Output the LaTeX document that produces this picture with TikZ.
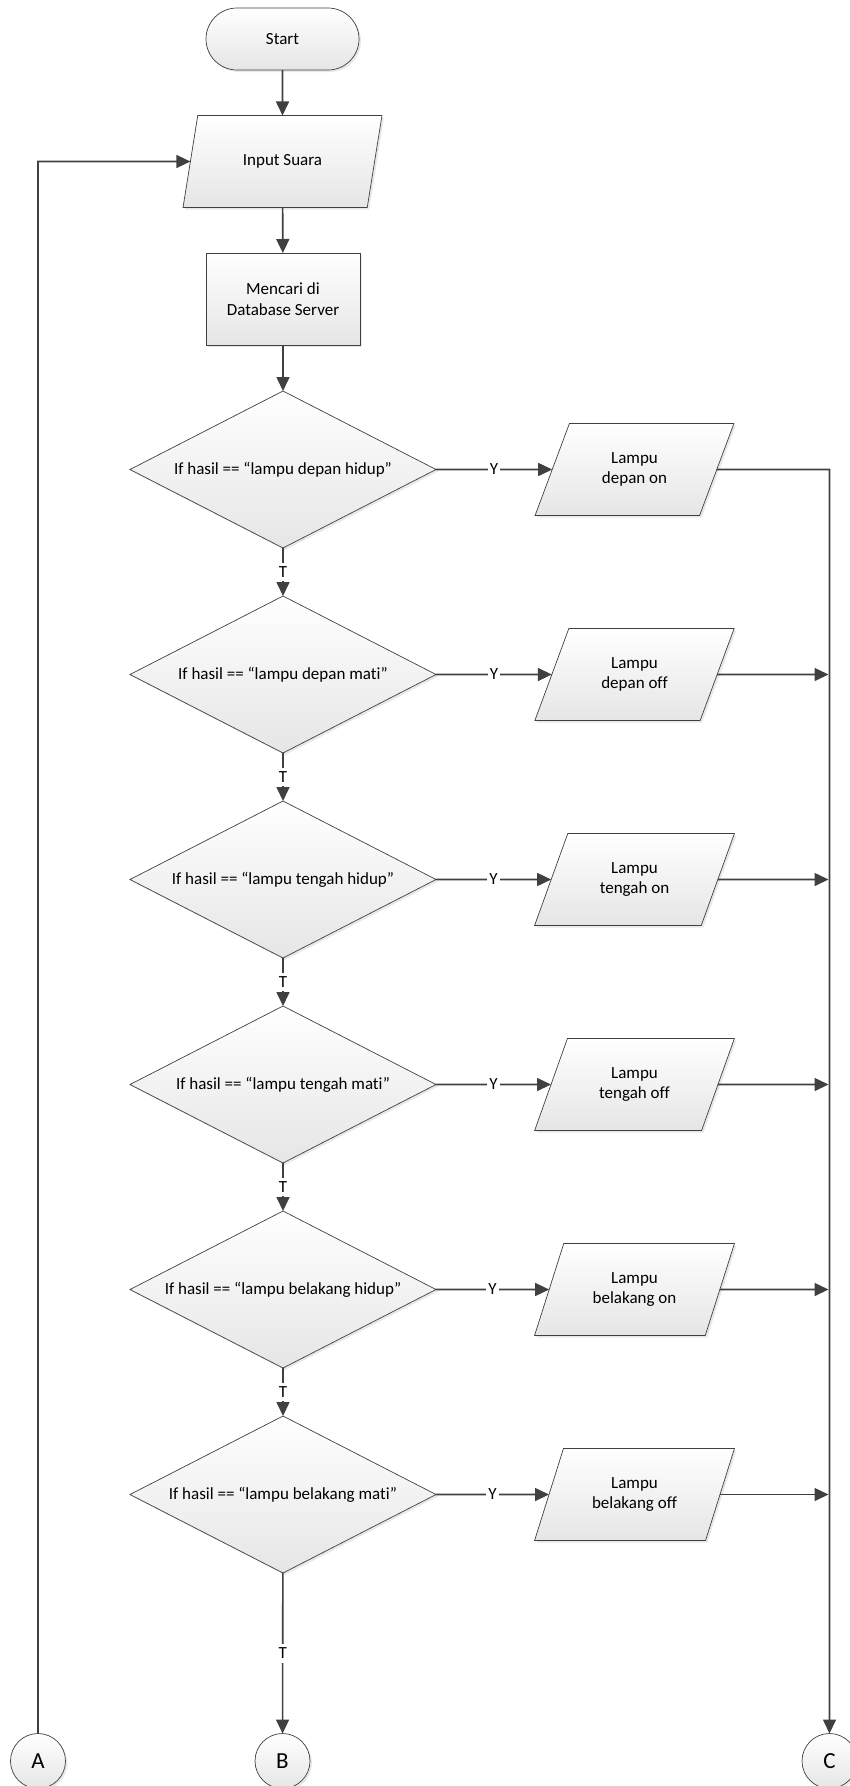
\documentclass[tikz,border=0pt]{standalone}
\usepackage{fontspec}
\setmainfont{Carlito}[Ligatures=NoCommon]
\usetikzlibrary{shapes.geometric,shapes.misc,arrows.meta,shadows,calc}
\definecolor{linecol}{HTML}{404040}
\begin{document}
\begin{tikzpicture}[x=1pt,y=-1pt,
  every node/.style={font=\fontsize{17}{20.7}\selectfont, outer sep=0pt, text=black},
  shp/.style={draw=linecol, line width=0.7pt, top color=white, bottom color=black!10,
    drop shadow={shadow xshift=2pt, shadow yshift=-2pt, opacity=0.18}},
  term/.style={shp, rectangle, rounded corners=31pt, minimum width=153pt, minimum height=62pt, inner sep=0pt},
  io/.style={shp, trapezium, trapezium left angle=63.43, trapezium right angle=116.57,
    trapezium stretches=true, minimum width=200pt, minimum height=92pt, inner sep=0pt, align=center},
  proc/.style={shp, rectangle, minimum width=154pt, minimum height=92pt, inner sep=0pt, align=center},
  dec/.style={shp, diamond, aspect=1.95, minimum width=306pt, minimum height=157pt, inner sep=0pt},
  conn/.style={shp, circle, minimum size=55pt, inner sep=0pt, font=\fontsize{23}{26}\selectfont},
  line/.style={draw=linecol, line width=1.6pt},
  arr/.style={line, -{Triangle[length=14pt,width=13pt]}},
  lbl/.style={midway, fill=white, inner xsep=2pt, inner ysep=4pt}
]
\useasboundingbox (0,0) rectangle (849,1786);

\node[term] (start) at (282.5,39) {Start};
\node[io] (in) at (282.5,161.5) {Input Suara};
\node[proc] (db) at (283,299) {Mencari di\\Database Server};

\node[dec] (d1) at (283,469.5) {If hasil == “lampu depan hidup”};
\node[dec] (d2) at (283,674.5) {If hasil == “lampu depan mati”};
\node[dec] (d3) at (283,879.5) {If hasil == “lampu tengah hidup”};
\node[dec] (d4) at (283,1084.5) {If hasil == “lampu tengah mati”};
\node[dec] (d5) at (283,1289.5) {If hasil == “lampu belakang hidup”};
\node[dec] (d6) at (283,1494.5) {If hasil == “lampu belakang mati”};

\node[io] (p1) at (634.5,469.5) {Lampu\\depan on};
\node[io] (p2) at (634.5,674.5) {Lampu\\depan off};
\node[io] (p3) at (634.5,879.5) {Lampu\\tengah on};
\node[io] (p4) at (634.5,1084.5) {Lampu\\tengah off};
\node[io] (p5) at (634.5,1289.5) {Lampu\\belakang on};
\node[io] (p6) at (634.5,1494.5) {Lampu\\belakang off};

\node[conn] (A) at (38,1761) {A};
\node[conn] (B) at (282.5,1761) {B};
\node[conn] (C) at (829.5,1761) {C};

\draw[arr] (start) -- (in);
\draw[arr] (in) -- (db);
\draw[arr] (db) -- (d1);
\draw[arr] (d1) -- node[lbl]{T} (d2);
\draw[arr] (d2) -- node[lbl]{T} (d3);
\draw[arr] (d3) -- node[lbl]{T} (d4);
\draw[arr] (d4) -- node[lbl]{T} (d5);
\draw[arr] (d5) -- node[lbl]{T} (d6);
\draw[arr] (d6) -- node[lbl]{T} (B);

\draw[arr] (d1) -- node[lbl]{Y} (p1);
\draw[arr] (d2) -- node[lbl]{Y} (p2);
\draw[arr] (d3) -- node[lbl]{Y} (p3);
\draw[arr] (d4) -- node[lbl]{Y} (p4);
\draw[arr] (d5) -- node[lbl]{Y} (p5);
\draw[arr] (d6) -- node[lbl]{Y} (p6);

\draw[arr] (p1) -- (p1 -| C) -- (C);
\draw[arr, shorten >=1pt] (p2) -- (p2 -| C);
\draw[arr, shorten >=1pt] (p3) -- (p3 -| C);
\draw[arr, shorten >=1pt] (p4) -- (p4 -| C);
\draw[arr, shorten >=1pt] (p5) -- (p5 -| C);
\draw[arr, shorten >=1pt] (p6) -- (p6 -| C);

\draw[arr] (A) -- (A |- in) -- (in);
\end{tikzpicture}
\end{document}
